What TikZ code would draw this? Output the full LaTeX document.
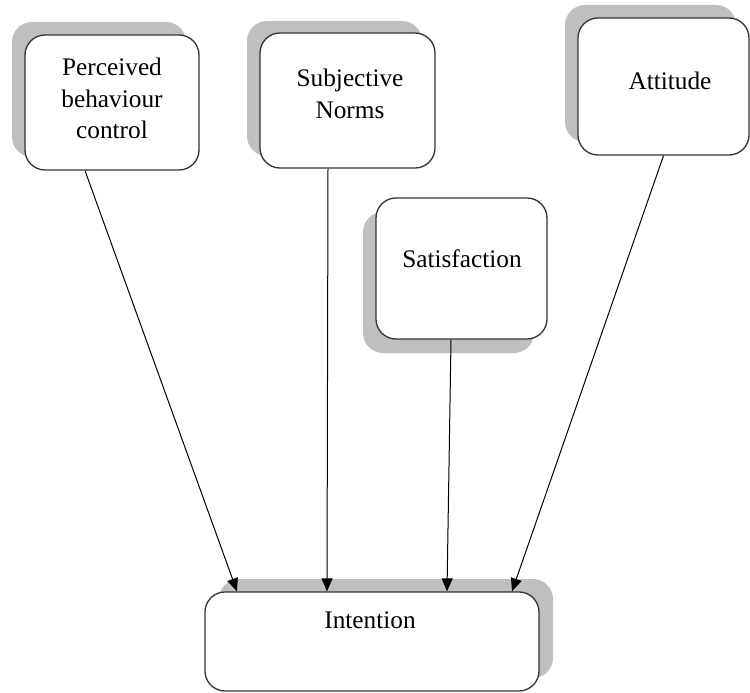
\documentclass[tikz,border=0pt]{standalone}
\usepackage{fontspec}
\setmainfont{Liberation Serif}
\usepackage{tikz}
\usetikzlibrary{arrows.meta}

\begin{document}
\begin{tikzpicture}[x=1pt,y=-1pt]
            \tikzstyle{shadowbox}=[rectangle,rounded corners=20pt,fill=black!25,draw=none,inner sep=0pt]
            \tikzstyle{box}=[rectangle,rounded corners=20pt,fill=white,draw=black!80,line width=1.3pt,inner sep=0pt]
            \tikzstyle{label}=[align=center,anchor=base,inner sep=0pt,font=\fontsize{25.3pt}{32pt}\selectfont]
            \tikzstyle{arrow}=[-{Triangle[length=13pt,width=11pt]},line width=1pt,black]
            \useasboundingbox (0,0) rectangle (750,693);

            \foreach \name/\cx/\cy/\w/\h/\dx/\dy in {pbc/112/102.5/174/135/-13/-13, sn/347.5/100.5/175/135/-13/-12, att/663.5/86.5/171/137/-13/-13, sat/461.5/268.5/171/141/-13/14, int/372/641.5/334/99/14/-13}
            {
                    \node[shadowbox,minimum width=\w pt,minimum height=\h pt] (\name-sh) at (\cx+\dx,\cy+\dy) {};
                    \node[box,minimum width=\w pt,minimum height=\h pt] (\name) at (\cx,\cy) {};
            }

                % base anchor sits on the last line
                \foreach \name/\x/\y/\txt in {pbc/112/139/{Perceived\\behaviour\\control}, sn/350/118/{Subjective\\Norms}, att/670/89/Attitude, sat/462/267/Satisfaction, int/370/628/Intention}
                    \node[label] (\name-txt) at (\x,\y) {\txt};

                \foreach \from/\fs/\ts in {pbc/-27/-135, sn/-19.5/-45, sat/-10.5/75, att/0/140}
                    \draw[arrow] ([xshift=\fs pt]\from.south) -- ([xshift=\ts pt]int.north);
        \end{tikzpicture}
\end{document}
